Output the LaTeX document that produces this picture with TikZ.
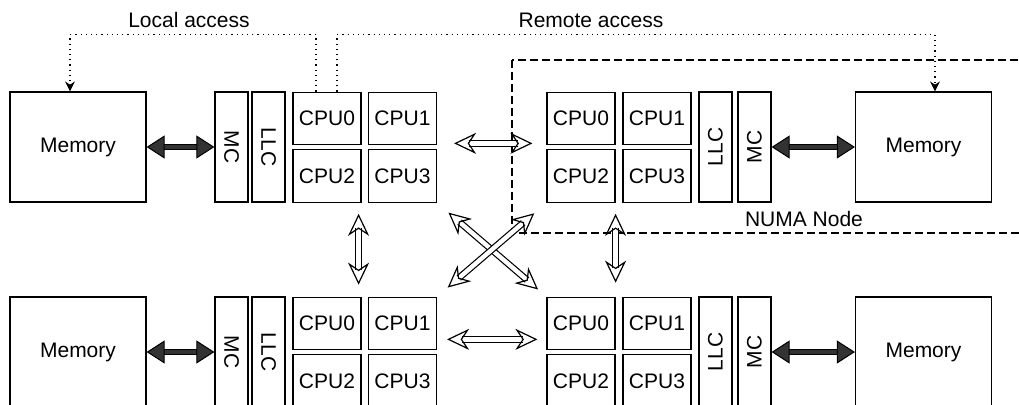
\documentclass[tikz,border=0pt]{standalone}
\usepackage{fontspec}
\setmainfont{Liberation Sans}
\usetikzlibrary{arrows.meta}
\definecolor{busgray}{HTML}{333333}
\tikzset{
  box/.style={draw, line width=0.6pt, inner sep=0pt},
  mem/.style={box, minimum width=68pt, minimum height=55pt},
  cpu/.style={box, minimum width=34pt, minimum height=26.25pt},
  cache/.style={box, minimum width=16.5pt, minimum height=55pt},
  link/.style={draw, line width=0.6pt, double, double distance=2.2pt,
    {Stealth[open,length=11pt,width=10.5pt,inset=3.5pt]}-{Stealth[open,length=11pt,width=10.5pt,inset=3.5pt]}},
  bus/.style={draw=black, line width=0.5pt, double=busgray, double distance=2pt,
    {Triangle[fill=busgray,length=9pt,width=11.5pt]}-{Triangle[fill=busgray,length=9pt,width=11.5pt]}},
  access/.style={dotted, line width=0.6pt, -{Stealth[length=5pt,width=5pt]}},
  numa/.style={dashed, line width=0.6pt, dash pattern=on 4pt off 2pt}
}
\begin{document}
\begin{tikzpicture}[x=0.5pt, y=-0.5pt, font=\fontsize{10.5}{12}\selectfont]
\path[use as bounding box, clip] (0,0) rectangle (1019,404);
%\draw[step=50,gray,very thin] (0,0) grid (1019,404);
% numa node frame
\draw[numa] (512,60) rectangle (1030,233);
\node (numa-lbl) at (804,219) {NUMA Node};
% top left
\node[mem] (tl-mem) at (78,147) {Memory};
\node[cache] (tl-mc) at (231.5,147) {\rotatebox{-90}{MC}};
\node[cache] (tl-llc) at (268.5,147) {\rotatebox{-90}{LLC}};
\node[cpu] (tl-c0) at (327,118.5) {CPU0};
\node[cpu] (tl-c1) at (402.5,118.5) {CPU1};
\node[cpu] (tl-c2) at (327,176) {CPU2};
\node[cpu] (tl-c3) at (402.5,176) {CPU3};
% top right
\node[cpu] (tr-c0) at (581,118.5) {CPU0};
\node[cpu] (tr-c1) at (657,118.5) {CPU1};
\node[cpu] (tr-c2) at (581,176) {CPU2};
\node[cpu] (tr-c3) at (657,176) {CPU3};
\node[cache] (tr-llc) at (715.5,147) {\rotatebox{90}{LLC}};
\node[cache] (tr-mc) at (754.5,147) {\rotatebox{90}{MC}};
\node[mem] (tr-mem) at (923.5,147) {Memory};
% bottom left
\node[mem] (bl-mem) at (78,352) {Memory};
\node[cache] (bl-mc) at (231.5,352) {\rotatebox{-90}{MC}};
\node[cache] (bl-llc) at (268.5,352) {\rotatebox{-90}{LLC}};
\node[cpu] (bl-c0) at (327,323.5) {CPU0};
\node[cpu] (bl-c1) at (402.5,323.5) {CPU1};
\node[cpu] (bl-c2) at (327,381) {CPU2};
\node[cpu] (bl-c3) at (402.5,381) {CPU3};
% bottom right
\node[cpu] (br-c0) at (581,323.5) {CPU0};
\node[cpu] (br-c1) at (657,323.5) {CPU1};
\node[cpu] (br-c2) at (581,381) {CPU2};
\node[cpu] (br-c3) at (657,381) {CPU3};
\node[cache] (br-llc) at (715.5,352) {\rotatebox{90}{LLC}};
\node[cache] (br-mc) at (754.5,352) {\rotatebox{90}{MC}};
\node[mem] (br-mem) at (923.5,352) {Memory};
% memory buses
\draw[bus] (tl-mem.east) -- (tl-mc.west);
\draw[bus] (tr-mc.east) -- (tr-mem.west);
\draw[bus] (bl-mem.east) -- (bl-mc.west);
\draw[bus] (br-mc.east) -- (br-mem.west);
% interconnect
\draw[link, shorten <=8.5pt, shorten >=7pt] ([yshift=1pt]tl-c1.south east) -- ([yshift=1pt]tr-c0.south west);
\draw[link, shorten <=5pt, shorten >=4.5pt] ([yshift=5.5pt]bl-c1.south east) -- ([yshift=5.5pt]br-c0.south west);
\draw[link, shorten <=5.5pt, shorten >=6pt] ([xshift=-1.5pt]tl-c2.south east) -- ([xshift=-1.5pt]bl-c0.north east);
\draw[link, shorten <=5.5pt, shorten >=7pt] (tr-c2.south east) -- (br-c0.north east);
\draw[link, shorten <=7.5pt, shorten >=5.5pt] (tl-c3.south east) -- (br-c0.north west);
\draw[link, shorten <=7pt, shorten >=8pt] (bl-c1.north east) -- (tr-c2.south west);
% access paths
\draw[access] ([xshift=-5.5pt]tl-c0.north) -- ++(0,-57) -| ([xshift=-4pt]tl-mem.north);
\draw[access] ([xshift=5pt]tl-c0.north) -- ++(0,-57) -| ([xshift=5.75pt]tr-mem.north);
\node (local-lbl) at (189,20) {Local access};
\node (remote-lbl) at (591,20) {Remote access};
\end{tikzpicture}
\end{document}
